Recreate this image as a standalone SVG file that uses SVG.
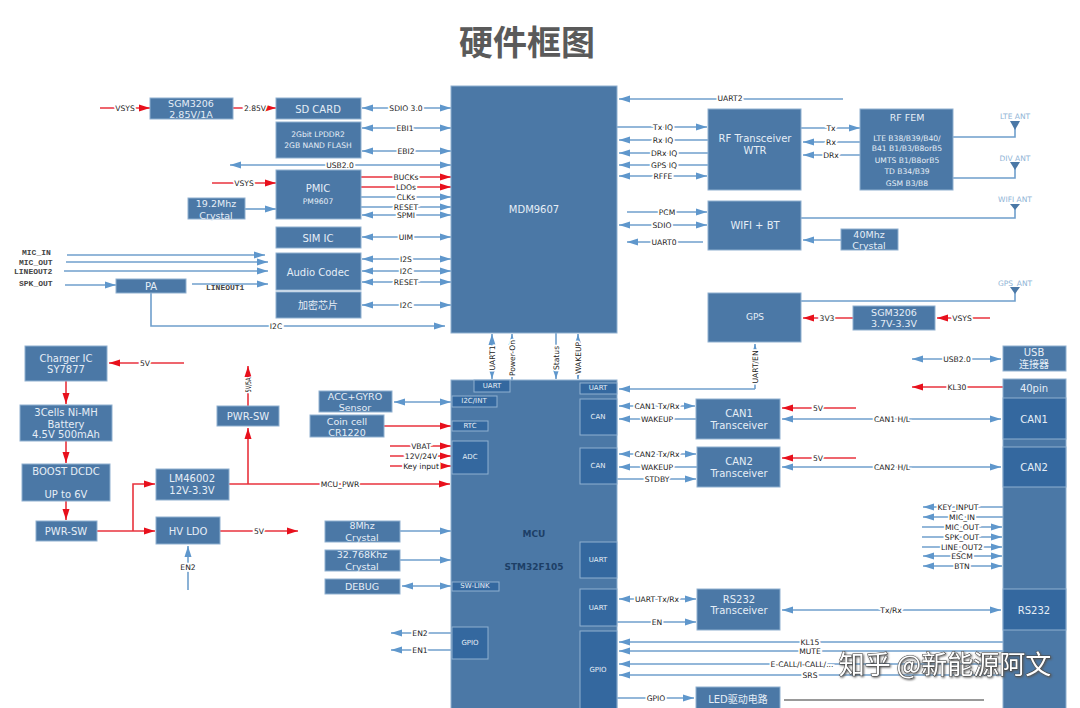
<svg xmlns="http://www.w3.org/2000/svg" width="1080" height="708" viewBox="0 0 1080 708">
<style>
text{font-family:"DejaVu Sans","Noto Sans CJK SC",sans-serif;text-anchor:middle;dominant-baseline:central}
rect{fill:#4b78a6;stroke:#8fb0d0;stroke-width:1}
rect.d{fill:#34689f}
.n text{fill:#e6eef6;font-size:10px}
.s10 text{font-size:9.5px}
.s8 text,text.s8{font-size:7.6px}
.s7 text{font-size:7px}
path{fill:none;stroke-width:1.6}
.b{stroke:#6f9fcc}
.r{stroke:#e8323c}
.b.e{marker-end:url(#ab)}
.b.s{marker-start:url(#ab)}
.b.w{marker-start:url(#ab);marker-end:url(#ab)}
.r.e{marker-end:url(#ar)}
.l text{fill:#222;font-size:7.6px;paint-order:stroke;stroke:#fff;stroke-width:3.5px}
.m text{font-family:"Liberation Mono",monospace;text-anchor:start;fill:#444;font-size:8px;font-weight:bold}
.a text{fill:#8fb4d6;font-size:7.5px}
.a polygon{fill:#4b78a6}
</style>
<defs>
<marker id="ab" markerUnits="userSpaceOnUse" markerWidth="12" markerHeight="8" refX="11" refY="4" orient="auto-start-reverse"><path d="M0 0.5L11 4L0 7.5Z" style="fill:#5f97cc;stroke:none"/></marker>
<marker id="ar" markerUnits="userSpaceOnUse" markerWidth="12" markerHeight="8" refX="11" refY="4" orient="auto-start-reverse"><path d="M0 0.5L11 4L0 7.5Z" style="fill:#e8101c;stroke:none"/></marker>
</defs>
<rect x="0" y="0" width="1080" height="708" style="fill:#fff;stroke:none"/>
<text id="title" x="527" y="40" style="font-size:34px;font-weight:bold;fill:#5a5a5a;font-family:'Noto Sans CJK SC',sans-serif">硬件框图</text>

<g id="connectors">
<path class="r e" d="M100 108H150"/><path class="r e" d="M233 108H276"/>
<path class="b w" d="M362 108H451"/><path class="b w" d="M362 128H451"/><path class="b w" d="M362 151H451"/>
<path class="b w" d="M230 165H451"/>
<path class="r e" d="M361 177H451"/><path class="r e" d="M361 187H451"/>
<path class="b e" d="M361 197H451"/><path class="b e" d="M361 207H451"/><path class="b w" d="M362 215H451"/>
<path class="b w" d="M362 237H451"/><path class="b w" d="M362 259H451"/><path class="b w" d="M362 271H451"/><path class="b w" d="M362 282H451"/><path class="b w" d="M362 305H451"/>
<path class="r e" d="M212 183H276"/><path class="b e" d="M245 209H276"/>
<path class="b e" d="M67 255H265"/><path class="b e" d="M66 262H268"/><path class="b e" d="M64 271H268"/><path class="b e" d="M65 285H116"/><path class="b e" d="M192 284H268"/>
<path class="b e" d="M151 293V326H445"/>
<path class="b s" d="M619 99H843"/>
<path class="b e" d="M617 127H707"/><path class="b s" d="M619 140H708"/><path class="b s" d="M619 153H708"/><path class="b s" d="M619 165H708"/><path class="b w" d="M619 176H707"/>
<path class="b e" d="M801 128H860"/><path class="b s" d="M803 142H860"/><path class="b s" d="M803 155H860"/>
<path class="b" d="M953 137H1015V128"/><path class="b" d="M953 178H1015V168"/><path class="b" d="M801 218H1015V208"/><path class="b" d="M801 301H1015V292"/>
<path class="b e" d="M627 212H707"/><path class="b w" d="M619 225H707"/><path class="b s" d="M627 242H703"/>
<path class="b s" d="M803 240H841"/>
<path class="r e" d="M853 318H803"/><path class="r e" d="M990 318H937"/>
<path class="b w" d="M492 334V379"/><path class="b e" d="M512 380V334"/><path class="b e" d="M556 333V379"/><path class="b w" d="M578 334V379"/>
<path class="b e" d="M755 389V344"/><path class="b s" d="M619 389H755"/>
<path class="b w" d="M619 406H695"/><path class="b s" d="M619 419H696"/><path class="b w" d="M619 454H696"/><path class="b s" d="M619 467H697"/><path class="b e" d="M617 479H696"/>
<path class="r e" d="M856 408H782"/><path class="r e" d="M856 458H782"/>
<path class="b w" d="M782 419H1001"/><path class="b w" d="M782 467H1001"/>
<path class="b w" d="M912 359H1001"/><path class="r e" d="M1003 387H912"/>
<path class="b s" d="M923 507H1003"/><path class="b s" d="M923 517H1003"/><path class="b e" d="M922 527H1002"/><path class="b e" d="M922 537H1002"/><path class="b e" d="M922 547H1002"/><path class="b w" d="M923 556H1002"/><path class="b w" d="M923 566H1002"/>
<path class="b w" d="M619 599H696"/><path class="b e" d="M617 622H696"/><path class="b w" d="M782 610H1001"/>
<path class="b s" d="M619 642H1003"/><path class="b s" d="M619 651H1003"/><path class="b s" d="M619 664H1003"/><path class="b s" d="M619 675H1003"/>
<path class="b e" d="M617 698H694"/><path d="M784 700H984" style="stroke:#777"/>
<path class="r e" d="M184 363H109"/><path class="r e" d="M66 381V404"/><path class="r e" d="M66 441V463"/><path class="r e" d="M66 501V520"/>
<path class="r e" d="M97 531H155"/><path class="r e" d="M133 531V484H155"/>
<path class="r e" d="M229 484H450"/><path class="r e" d="M248 484V428"/><path class="r e" d="M248 406V366"/>
<path class="r e" d="M220 531H298"/><path class="b e" d="M188 590V546"/>
<path class="b w" d="M394 402H451"/><path class="r e" d="M384 426H451"/>
<path class="r e" d="M390 446H451"/><path class="r e" d="M390 456H451"/><path class="r e" d="M390 466H451"/>
<path class="b e" d="M400 531H451"/><path class="b e" d="M400 560H451"/><path class="b w" d="M402 586H451"/>
<path class="b s" d="M391 633H452"/><path class="b s" d="M391 650H452"/>
<g class="l">
<text x="125" y="108">VSYS</text><text x="255" y="108">2.85V</text><text x="406" y="108">SDIO 3.0</text><text x="405" y="128">EBI1</text><text x="406" y="151">EBI2</text><text x="340" y="165">USB2.0</text>
<text x="406" y="177">BUCKs</text><text x="406" y="187">LDOs</text><text x="406" y="197">CLKs</text><text x="406" y="207">RESET</text><text x="406" y="215">SPMI</text><text x="406" y="237">UIM</text><text x="406" y="259">I2S</text><text x="406" y="271">I2C</text><text x="406" y="282">RESET</text><text x="406" y="305">I2C</text>
<text x="244" y="183">VSYS</text><text x="276" y="326">I2C</text>
<text x="730" y="98">UART2</text><text x="663" y="127">Tx IQ</text><text x="663" y="140">Rx IQ</text><text x="664" y="153">DRx IQ</text><text x="664" y="165">GPS IQ</text><text x="663" y="176">RFFE</text>
<text x="831" y="128">Tx</text><text x="831" y="142">Rx</text><text x="831" y="155">DRx</text>
<text x="667" y="212">PCM</text><text x="662" y="225">SDIO</text><text x="664" y="242">UART0</text>
<text x="827" y="318">3V3</text><text x="962" y="318">VSYS</text>
<text transform="translate(492 358) rotate(-90)">UART1</text><text transform="translate(512 358) rotate(-90)">Power-On</text><text transform="translate(556 358) rotate(-90)">Status</text><text transform="translate(578 358) rotate(-90)">WAKEUP</text>
<text transform="translate(755 367) rotate(-90)">UART/EN</text>
<text x="657" y="406">CAN1 Tx/Rx</text><text x="657" y="419">WAKEUP</text><text x="657" y="454">CAN2 Tx/Rx</text><text x="657" y="467">WAKEUP</text><text x="657" y="479">STDBY</text>
<text x="818" y="408">5V</text><text x="818" y="458">5V</text><text x="892" y="419">CAN1 H/L</text><text x="892" y="467">CAN2 H/L</text>
<text x="957" y="359">USB2.0</text><text x="957" y="387">KL30</text>
<text x="958" y="507">KEY_INPUT</text><text x="962" y="517">MIC_IN</text><text x="962" y="527">MIC_OUT</text><text x="962" y="537">SPK_OUT</text><text x="962" y="547">LINE_OUT2</text><text x="962" y="556">ESCM</text><text x="962" y="566">BTN</text>
<text x="657" y="599">UART Tx/Rx</text><text x="657" y="622">EN</text><text x="891" y="610">Tx/Rx</text>
<text x="810" y="642">KL15</text><text x="810" y="651">MUTE</text><text x="802" y="664">E-CALL/I-CALL/...</text><text x="810" y="675">SRS</text><text x="656" y="698">GPIO</text>
<text x="145" y="363">5V</text><text transform="translate(248 385) rotate(-90)" textLength="15" lengthAdjust="spacingAndGlyphs">5V/5A</text><text x="340" y="484">MCU_PWR</text><text x="259" y="531">5V</text><text x="188" y="567">EN2</text>
<text x="421" y="446">VBAT</text><text x="421" y="456">12V/24V</text><text x="421" y="466">Key input</text><text x="420" y="633">EN2</text><text x="420" y="650">EN1</text>
</g>
<g class="m"><text x="22" y="252">MIC_IN</text><text x="19" y="262">MIC_OUT</text><text x="14" y="271">LINEOUT2</text><text x="19" y="283">SPK_OUT</text><text x="206" y="287">LINEOUT1</text></g>
</g>

<g id="node-sgm3206-a" class="n s10"><rect x="150" y="98" width="83" height="21"/><text x="191" y="103">SGM3206</text><text x="191" y="114">2.85V/1A</text></g>
<g id="node-sd" class="n"><rect x="276" y="98" width="85" height="21"/><text x="318" y="109">SD CARD</text></g>
<g id="node-ddr" class="n s8"><rect x="276" y="122" width="85" height="36"/><text x="318" y="134">2Gbit LPDDR2</text><text x="318" y="145">2GB NAND FLASH</text></g>
<g id="node-pmic" class="n"><rect x="276" y="170" width="85" height="49"/><text x="318" y="188">PMIC</text><text x="318" y="201" style="font-size:7.6px">PM9607</text></g>
<g id="node-xtal19" class="n s10"><rect x="188" y="198" width="57" height="21"/><text x="216" y="203">19.2Mhz</text><text x="216" y="215">Crystal</text></g>
<g id="node-sim" class="n"><rect x="276" y="227" width="85" height="21"/><text x="318" y="238">SIM IC</text></g>
<g id="node-codec" class="n"><rect x="276" y="253" width="85" height="37"/><text x="318" y="272">Audio Codec</text></g>
<g id="node-crypto" class="n"><rect x="276" y="292" width="85" height="26"/><text x="318" y="305">加密芯片</text></g>
<g id="node-pa" class="n"><rect x="116" y="279" width="70" height="14"/><text x="151" y="286">PA</text></g>
<g id="node-mdm" class="n"><rect x="451" y="86" width="166" height="247"/><text x="534" y="209">MDM9607</text></g>
<g id="node-rf" class="n"><rect x="708" y="109" width="93" height="81"/><text x="755" y="138">RF Transceiver</text><text x="755" y="150">WTR</text></g>
<g id="node-fem" class="n s8"><rect x="860" y="109" width="93" height="81"/><text x="907" y="117" style="font-size:9.5px">RF FEM</text><text x="907" y="138">LTE  B38/B39/B40/</text><text x="907" y="148">B41 B1/B3/B8orB5</text><text x="907" y="160">UMTS B1/B8orB5</text><text x="907" y="171">TD B34/B39</text><text x="907" y="183">GSM B3/B8</text></g>
<g id="node-wifi" class="n"><rect x="708" y="201" width="93" height="49"/><text x="755" y="225">WIFI + BT</text></g>
<g id="node-xtal40" class="n s10"><rect x="841" y="229" width="57" height="21"/><text x="869" y="234">40Mhz</text><text x="869" y="245">Crystal</text></g>
<g id="node-gps" class="n"><rect x="708" y="293" width="93" height="49"/><text x="755" y="317" style="font-size:9px">GPS</text></g>
<g id="node-sgm3206-b" class="n s10"><rect x="853" y="306" width="82" height="24"/><text x="894" y="312">SGM3206</text><text x="894" y="323">3.7V-3.3V</text></g>
<g id="ant-lte" class="a"><text x="1015" y="116">LTE ANT</text><polygon points="1010,121 1020,121 1015,130"/></g>
<g id="ant-div" class="a"><text x="1015" y="158">DIV ANT</text><polygon points="1010,162 1020,162 1015,170"/></g>
<g id="ant-wifi" class="a"><text x="1015" y="199">WIFI ANT</text><polygon points="1010,204 1020,204 1015,210"/></g>
<g id="ant-gps" class="a"><text x="1015" y="283">GPS_ANT</text><polygon points="1010,287 1020,287 1015,294"/></g>

<g id="node-charger" class="n"><rect x="25" y="346" width="82" height="35"/><text x="66" y="358">Charger IC</text><text x="66" y="369">SY7877</text></g>
<g id="node-battery" class="n"><rect x="20" y="405" width="92" height="36"/><text x="66" y="412">3Cells Ni-MH</text><text x="66" y="424">Battery</text><text x="66" y="434">4.5V 500mAh</text></g>
<g id="node-boost" class="n"><rect x="22" y="464" width="88" height="37"/><text x="66" y="471">BOOST DCDC</text><text x="66" y="494">UP to 6V</text></g>
<g id="node-pwrsw-a" class="n"><rect x="36" y="521" width="61" height="20"/><text x="66" y="531">PWR-SW</text></g>
<g id="node-lm" class="n"><rect x="156" y="469" width="73" height="31"/><text x="192" y="478">LM46002</text><text x="192" y="490">12V-3.3V</text></g>
<g id="node-hvldo" class="n"><rect x="156" y="517" width="64" height="27"/><text x="188" y="531">HV LDO</text></g>
<g id="node-pwrsw-b" class="n"><rect x="217" y="406" width="62" height="20"/><text x="248" y="416">PWR-SW</text></g>
<g id="node-acc" class="n s10"><rect x="319" y="391" width="73" height="21"/><text x="355" y="396">ACC+GYRO</text><text x="355" y="407">Sensor</text></g>
<g id="node-coin" class="n s10"><rect x="310" y="415" width="74" height="22"/><text x="347" y="421">Coin cell</text><text x="347" y="432">CR1220</text></g>
<g id="node-xtal8" class="n s10"><rect x="325" y="521" width="75" height="21"/><text x="362" y="525">8Mhz</text><text x="362" y="537">Crystal</text></g>
<g id="node-xtal32" class="n s10"><rect x="325" y="550" width="75" height="21"/><text x="362" y="554">32.768Khz</text><text x="362" y="566">Crystal</text></g>
<g id="node-debug" class="n s10"><rect x="325" y="579" width="75" height="15"/><text x="362" y="586">DEBUG</text></g>

<g id="node-mcu" class="n"><rect x="451" y="380" width="166" height="330"/><text x="534" y="534" style="fill:#1d3f66;font-size:9px;font-weight:bold">MCU</text><text x="534" y="567" style="fill:#1d3f66;font-size:9px;font-weight:bold">STM32F105</text></g>
<g id="port-uart-top" class="n s7"><rect class="d" x="474" y="380" width="36" height="12"/><text x="492" y="386">UART</text></g>
<g id="port-i2c" class="n s7"><rect class="d" x="452" y="396" width="45" height="11"/><text x="474" y="401">I2C/INT</text></g>
<g id="port-rtc" class="n s7"><rect class="d" x="452" y="421" width="36" height="10"/><text x="470" y="426">RTC</text></g>
<g id="port-adc" class="n s7"><rect class="d" x="452" y="441" width="36" height="33"/><text x="470" y="457">ADC</text></g>
<g id="port-swlink" class="n s7"><rect class="d" x="452" y="582" width="47" height="9"/><text x="475" y="586">SW-LINK</text></g>
<g id="port-gpio-l" class="n s7"><rect class="d" x="452" y="627" width="36" height="32"/><text x="470" y="643">GPIO</text></g>
<g id="port-uart-r1" class="n s7"><rect class="d" x="580" y="383" width="37" height="11"/><text x="598" y="388">UART</text></g>
<g id="port-can1" class="n s7"><rect class="d" x="580" y="399" width="37" height="36"/><text x="598" y="417">CAN</text></g>
<g id="port-can2" class="n s7"><rect class="d" x="580" y="448" width="37" height="36"/><text x="598" y="466">CAN</text></g>
<g id="port-uart-r2" class="n s7"><rect class="d" x="580" y="542" width="37" height="36"/><text x="598" y="560">UART</text></g>
<g id="port-uart-r3" class="n s7"><rect class="d" x="580" y="589" width="37" height="37"/><text x="598" y="608">UART</text></g>
<g id="port-gpio-r" class="n s7"><rect class="d" x="580" y="631" width="37" height="79"/><text x="598" y="670">GPIO</text></g>
<g id="node-can1" class="n"><rect x="696" y="399" width="84" height="40"/><text x="739" y="413">CAN1</text><text x="739" y="425">Transceiver</text></g>
<g id="node-can2" class="n"><rect x="697" y="447" width="83" height="40"/><text x="739" y="461">CAN2</text><text x="739" y="473">Transceiver</text></g>
<g id="node-rs232" class="n"><rect x="697" y="589" width="83" height="41"/><text x="739" y="599">RS232</text><text x="739" y="610">Transceiver</text></g>
<g id="node-led" class="n"><rect x="696" y="687" width="84" height="23"/><text x="738" y="699">LED驱动电路</text></g>
<g id="node-usb" class="n"><rect x="1003" y="346" width="63" height="25"/><text x="1034" y="352">USB</text><text x="1034" y="364">连接器</text></g>
<g id="node-40pin" class="n"><rect x="1003" y="379" width="63" height="331"/><text x="1034" y="388">40pin</text></g>
<g id="pin-can1" class="n"><rect class="d" x="1003" y="398" width="63" height="41"/><text x="1034" y="419">CAN1</text></g>
<g id="pin-can2" class="n"><rect class="d" x="1003" y="447" width="63" height="40"/><text x="1034" y="467">CAN2</text></g>
<g id="pin-rs232" class="n"><rect class="d" x="1003" y="589" width="63" height="41"/><text x="1034" y="610">RS232</text></g>
<text id="watermark" x="945" y="662" style="font-family:'Noto Sans CJK SC',sans-serif;font-size:26px;fill:#fff;stroke:#444;stroke-width:1px;paint-order:stroke;filter:drop-shadow(1px 1px 1px #555)">知乎 @新能源阿文</text>
</svg>
